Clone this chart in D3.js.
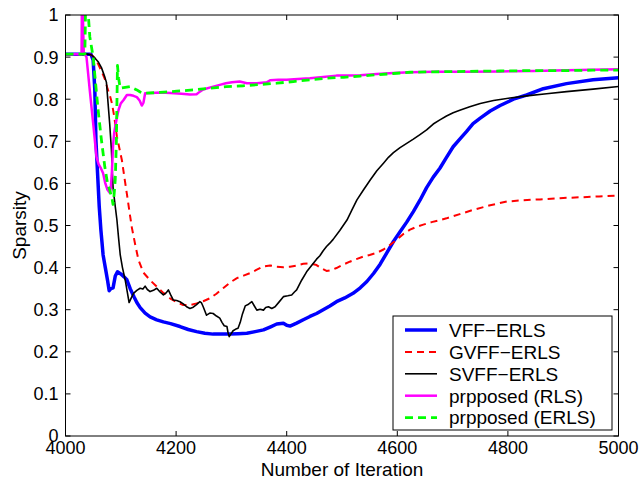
<!DOCTYPE html>
<html>
<head>
<meta charset="utf-8">
<script src="https://cdn.jsdelivr.net/npm/d3@7"></script>
<style>
  body { margin: 0; background: white; }
  text { font-family: "Liberation Sans", Arial, Helvetica, sans-serif; }
</style>
</head>
<body>
<div id="chart"></div>
<script>
const xTicks = [4000, 4200, 4400, 4600, 4800, 5000];
const yTicks = [0, 0.1, 0.2, 0.3, 0.4, 0.5, 0.6, 0.7, 0.8, 0.9, 1];

const seriesNames = ["VFF\u2212ERLS", "GVFF\u2212ERLS", "SVFF\u2212ERLS", "prpposed (RLS)", "prpposed (ERLS)"];

const vffErls = [[4000,0.907],[4046,0.907],[4050,0.893],[4053,0.822],[4055,0.703],[4058,0.624],[4061,0.545],[4064,0.489],[4066,0.46],[4068,0.43],[4072,0.40],[4076,0.37],[4079,0.345],[4082,0.35],[4086,0.352],[4090,0.38],[4094,0.39],[4100,0.385],[4106,0.378],[4111,0.371],[4117,0.35],[4124,0.33],[4129,0.317],[4135,0.305],[4144,0.292],[4153,0.283],[4165,0.276],[4177,0.271],[4190,0.267],[4207,0.26],[4222,0.253],[4237,0.248],[4252,0.244],[4267,0.242],[4282,0.242],[4297,0.242],[4312,0.243],[4328,0.244],[4343,0.248],[4358,0.252],[4372,0.26],[4382,0.266],[4394,0.268],[4400,0.263],[4406,0.261],[4418,0.268],[4430,0.276],[4442,0.284],[4454,0.291],[4466,0.3],[4478,0.309],[4490,0.319],[4505,0.328],[4520,0.339],[4533,0.352],[4545,0.367],[4557,0.386],[4569,0.408],[4581,0.435],[4593,0.462],[4605,0.485],[4617,0.508],[4629,0.533],[4641,0.56],[4653,0.59],[4665,0.615],[4677,0.636],[4689,0.662],[4701,0.687],[4713,0.705],[4725,0.723],[4737,0.742],[4750,0.755],[4768,0.772],[4786,0.785],[4810,0.8],[4834,0.81],[4864,0.825],[4906,0.837],[4954,0.846],[5000,0.851]];

const gvffErls = [[4000,0.907],[4044,0.907],[4050,0.902],[4056,0.892],[4062,0.875],[4068,0.858],[4072,0.845],[4076,0.825],[4080,0.81],[4084,0.79],[4088,0.76],[4093,0.711],[4098,0.68],[4102,0.655],[4107,0.61],[4111,0.575],[4116,0.53],[4120,0.495],[4126,0.455],[4132,0.418],[4141,0.388],[4153,0.37],[4165,0.355],[4177,0.34],[4189,0.327],[4201,0.318],[4213,0.311],[4225,0.311],[4237,0.315],[4249,0.32],[4261,0.327],[4273,0.338],[4285,0.351],[4298,0.365],[4310,0.375],[4322,0.381],[4334,0.387],[4346,0.395],[4358,0.403],[4370,0.405],[4382,0.402],[4394,0.401],[4406,0.402],[4418,0.405],[4430,0.409],[4442,0.41],[4454,0.406],[4463,0.398],[4472,0.392],[4481,0.394],[4490,0.399],[4502,0.407],[4514,0.414],[4526,0.42],[4538,0.426],[4550,0.43],[4563,0.435],[4575,0.443],[4587,0.454],[4599,0.466],[4611,0.48],[4623,0.49],[4635,0.497],[4647,0.502],[4662,0.508],[4677,0.513],[4689,0.517],[4713,0.527],[4737,0.537],[4768,0.548],[4798,0.557],[4828,0.56],[4858,0.562],[4894,0.565],[4930,0.567],[4965,0.569],[5000,0.571]];

const svffErls = [[4000,0.907],[4040,0.907],[4047,0.905],[4053,0.898],[4059,0.889],[4065,0.875],[4071,0.853],[4074,0.84],[4077,0.79],[4080,0.74],[4083,0.68],[4086,0.59],[4090,0.545],[4093,0.513],[4096,0.47],[4099,0.43],[4103,0.4],[4108,0.37],[4112,0.34],[4115,0.317],[4119,0.328],[4123,0.339],[4129,0.346],[4135,0.351],[4140,0.349],[4144,0.356],[4148,0.348],[4153,0.343],[4159,0.346],[4165,0.351],[4171,0.342],[4177,0.335],[4182,0.34],[4186,0.347],[4190,0.336],[4195,0.323],[4201,0.322],[4207,0.319],[4213,0.314],[4219,0.307],[4225,0.303],[4231,0.306],[4237,0.312],[4243,0.319],[4246,0.316],[4249,0.307],[4252,0.297],[4255,0.287],[4261,0.292],[4267,0.291],[4273,0.285],[4279,0.28],[4283,0.27],[4287,0.262],[4292,0.26],[4294,0.245],[4296,0.236],[4299,0.242],[4303,0.25],[4308,0.254],[4312,0.256],[4316,0.27],[4320,0.29],[4325,0.309],[4331,0.313],[4337,0.319],[4341,0.31],[4346,0.299],[4352,0.301],[4358,0.299],[4362,0.305],[4367,0.307],[4373,0.303],[4379,0.307],[4386,0.318],[4394,0.331],[4402,0.333],[4409,0.335],[4414,0.342],[4418,0.347],[4427,0.37],[4436,0.39],[4445,0.405],[4454,0.42],[4460,0.428],[4466,0.44],[4472,0.45],[4478,0.458],[4484,0.467],[4496,0.488],[4509,0.513],[4518,0.537],[4527,0.561],[4539,0.585],[4551,0.608],[4563,0.63],[4575,0.648],[4584,0.662],[4593,0.673],[4605,0.685],[4617,0.695],[4629,0.705],[4641,0.716],[4653,0.727],[4665,0.741],[4677,0.751],[4689,0.76],[4701,0.768],[4713,0.774],[4731,0.782],[4750,0.79],[4774,0.797],[4804,0.803],[4834,0.808],[4870,0.813],[4906,0.818],[4954,0.824],[5000,0.83]];

const proposedRls = [[4000,0.907],[4029,0.907],[4030,1.08],[4033,0.91],[4038,0.9],[4044,0.82],[4050,0.743],[4056,0.663],[4060,0.645],[4064,0.636],[4068,0.624],[4072,0.60],[4076,0.585],[4080,0.578],[4082,0.59],[4084,0.63],[4086,0.69],[4088,0.72],[4090,0.735],[4093,0.757],[4096,0.775],[4100,0.79],[4105,0.798],[4111,0.81],[4117,0.81],[4123,0.808],[4129,0.805],[4134,0.797],[4138,0.785],[4141,0.792],[4144,0.814],[4155,0.815],[4171,0.816],[4190,0.815],[4210,0.813],[4225,0.811],[4237,0.812],[4243,0.818],[4249,0.823],[4262,0.828],[4279,0.834],[4290,0.838],[4301,0.84],[4315,0.842],[4328,0.838],[4346,0.838],[4364,0.84],[4370,0.845],[4385,0.846],[4400,0.846],[4420,0.848],[4442,0.85],[4466,0.853],[4490,0.856],[4510,0.856],[4533,0.857],[4563,0.86],[4593,0.862],[4623,0.864],[4665,0.865],[4725,0.865],[4786,0.866],[4846,0.867],[4906,0.869],[4954,0.87],[5000,0.871]];

const proposedErls = [[4000,0.907],[4035,0.907],[4037,1.08],[4044,0.948],[4050,0.9],[4055,0.83],[4059,0.774],[4065,0.703],[4071,0.64],[4076,0.6],[4080,0.584],[4084,0.565],[4086,0.55],[4088,0.575],[4090,0.61],[4092,0.7],[4094,0.88],[4096,0.85],[4099,0.826],[4108,0.828],[4117,0.83],[4123,0.826],[4129,0.822],[4135,0.817],[4141,0.814],[4171,0.816],[4201,0.819],[4231,0.822],[4261,0.826],[4291,0.83],[4322,0.832],[4352,0.835],[4382,0.838],[4412,0.842],[4442,0.846],[4472,0.85],[4503,0.852],[4533,0.855],[4563,0.858],[4593,0.861],[4623,0.864],[4665,0.865],[4725,0.866],[4786,0.867],[4846,0.868],[4906,0.868],[4954,0.869],[5000,0.869]];

function drawChart() {
    const width = 643, height = 481;
    const margin = {top: 15, right: 24.5, bottom: 45, left: 65.5};

    const svg = d3.select("#chart").append("svg")
        .attr("width", width)
        .attr("height", height)
        .style("background", "white");

    const x = d3.scaleLinear().domain([4000, 5000]).range([margin.left, width - margin.right]);
    const y = d3.scaleLinear().domain([0, 1]).range([height - margin.bottom, margin.top]);

    svg.append("clipPath").attr("id", "plot-clip")
        .append("rect")
        .attr("x", x(4000)).attr("y", y(1))
        .attr("width", x(5000) - x(4000)).attr("height", y(0) - y(1));

    const styles = [
        {data: vffErls, color: "#0000ff", w: 3.5, dash: null},
        {data: gvffErls, color: "#ff0000", w: 2, dash: "7,5"},
        {data: svffErls, color: "#000000", w: 1.6, dash: null},
        {data: proposedRls, color: "#ff00ff", w: 2.5, dash: null},
        {data: proposedErls, color: "#00ff00", w: 2.8, dash: "8,5"}
    ];

    const line = d3.line().x(d => x(d[0])).y(d => y(d[1]));

    svg.append("g").attr("clip-path", "url(#plot-clip)")
        .selectAll("path").data(styles).join("path")
        .attr("fill", "none")
        .attr("stroke", d => d.color)
        .attr("stroke-width", d => d.w)
        .attr("stroke-dasharray", d => d.dash)
        .attr("stroke-linejoin", "round")
        .attr("d", d => line(d.data));

    // box with inward ticks on all four sides
    const tickLen = 5;
    const axes = svg.append("g").attr("stroke", "#000").attr("stroke-width", 1);
    axes.append("rect")
        .attr("x", x(4000)).attr("y", y(1))
        .attr("width", x(5000) - x(4000)).attr("height", y(0) - y(1))
        .attr("fill", "none");

    xTicks.forEach(t => {
        axes.append("line").attr("x1", x(t)).attr("x2", x(t)).attr("y1", y(0)).attr("y2", y(0) - tickLen);
        axes.append("line").attr("x1", x(t)).attr("x2", x(t)).attr("y1", y(1)).attr("y2", y(1) + tickLen);
    });
    yTicks.forEach(t => {
        axes.append("line").attr("x1", x(4000)).attr("x2", x(4000) + tickLen).attr("y1", y(t)).attr("y2", y(t));
        axes.append("line").attr("x1", x(5000)).attr("x2", x(5000) - tickLen).attr("y1", y(t)).attr("y2", y(t));
    });

    svg.append("g").selectAll("text").data(xTicks).join("text")
        .attr("x", d => x(d)).attr("y", y(0) + 18)
        .attr("text-anchor", "middle").attr("font-size", "18px")
        .text(d => d);

    svg.append("g").selectAll("text").data(yTicks).join("text")
        .attr("x", x(4000) - 7).attr("y", d => y(d)).attr("dy", "0.36em")
        .attr("text-anchor", "end").attr("font-size", "18px")
        .text(d => d === 0 || d === 1 ? d : d.toFixed(1));

    svg.append("text")
        .attr("x", (x(4000) + x(5000)) / 2).attr("y", 476)
        .attr("text-anchor", "middle").attr("font-size", "19px")
        .text("Number of Iteration");

    svg.append("text")
        .attr("transform", `translate(25.5,${(y(0) + y(1)) / 2}) rotate(-90)`)
        .attr("text-anchor", "middle").attr("font-size", "19px")
        .text("Sparsity");

    // legend
    const legend = svg.append("g");
    legend.append("rect")
        .attr("x", 393).attr("y", 316).attr("width", 219).attr("height", 114)
        .attr("fill", "white").attr("stroke", "#000").attr("stroke-width", 1);

    const rowH = 21.9;
    styles.forEach((s, i) => {
        const ry = 330 + i * rowH;
        legend.append("line")
            .attr("x1", 405).attr("x2", 437).attr("y1", ry).attr("y2", ry)
            .attr("stroke", s.color).attr("stroke-width", s.w)
            .attr("stroke-dasharray", s.dash);
        legend.append("text")
            .attr("x", 449).attr("y", ry).attr("dy", "0.36em")
            .attr("font-size", "19px")
            .text(seriesNames[i]);
    });
}

drawChart();
</script>
</body>
</html>
